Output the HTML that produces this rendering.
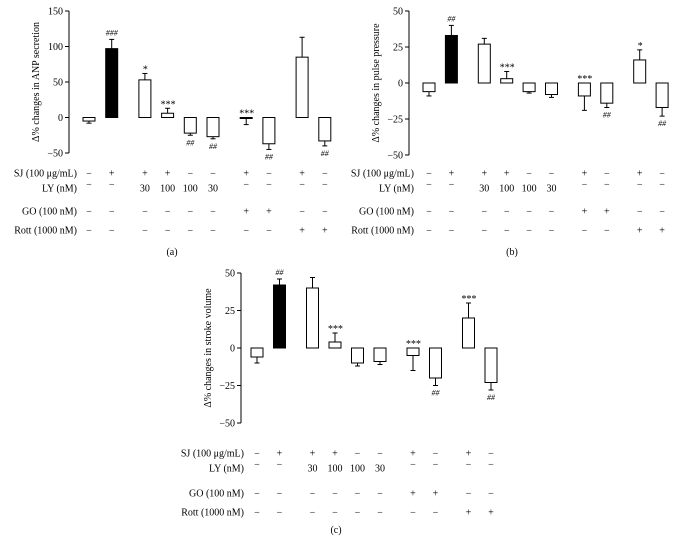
<!DOCTYPE html>
<html><head><meta charset="utf-8"><style>
body{margin:0;background:#fff}
svg{display:block;font-family:"Liberation Serif","DejaVu Serif",serif}
</style></head><body>
<svg id="s" width="673" height="545"></svg>
<script>
const groups=["g1","g2","g3","g4","g5","g6","g7","g8","g9","g10"];
const aVals=[-5,97,53,6,-22,-27,-1,-37,85,-33];
const aErr=[-8,110,62,13,-25,-30,-10,-45,113,-40];
const aMarks=["","###","*","***","##","##","***","##","","##"];
const aTicks=[150,100,50,0,-50];
const bVals=[-6,33,27,3,-6,-8,-9,-14,16,-17];
const bErr=[-9,40,31,8,-7,-10,-19,-17,23,-23];
const bMarks=["","##","","***","","","***","##","*","##"];
const bTicks=[50,25,0,-25,-50];
const cVals=[-6,42,40,4,-10,-9,-5,-20,20,-23];
const cErr=[-10,46,47,10,-12,-11,-15,-25,30,-28];
const cMarks=["","##","","***","","","***","##","***","##"];
const cTicks=[50,25,0,-25,-50];
const rowLabels=["SJ (100 \u03bcg/mL)","LY (nM)","GO (100 nM)","Rott (1000 nM)"];
const rowSJ=["\u2212","+","+","+","\u2212","\u2212","+","\u2212","+","\u2212"];
const rowLY=["\u2212","\u2212","30","100","100","30","\u2212","\u2212","\u2212","\u2212"];
const rowGO=["\u2212","\u2212","\u2212","\u2212","\u2212","\u2212","+","+","\u2212","\u2212"];
const rowRott=["\u2212","\u2212","\u2212","\u2212","\u2212","\u2212","\u2212","\u2212","+","+"];
const NS="http://www.w3.org/2000/svg";
const svg=document.getElementById("s");
function el(t,a,p){const e=document.createElementNS(NS,t);for(const k in a)e.setAttribute(k,a[k]);(p||svg).appendChild(e);return e;}
function panel(o){
  const g=el("g",{});
  
  
  const yMax=o.ticks[0],yMin=o.ticks[o.ticks.length-1];
  const y=v=>o.yTop+(yMax-v)/(yMax-yMin)*(o.yBot-o.yTop);
  const x=i=>o.x0+i*o.step+(i>=2?o.gap:0)+(i>=6?o.gap:0)+(i>=8?o.gap:0);
  const ax=el("line",{x1:o.ax,x2:o.ax,y1:y(yMax),y2:y(yMin),stroke:"#000","stroke-width":1},g);
  
  
  o.ticks.forEach(t=>{
    el("line",{x1:o.ax-4,x2:o.ax,y1:y(t),y2:y(t),stroke:"#000"},g);
    const tx=el("text",{x:o.ax-6,y:y(t)+3.5,"text-anchor":"end","font-size":10},g);
    tx.textContent=t<0?"\u2212"+(-t):String(t);
    
    
  });
  const yt=el("text",{transform:`translate(${o.ax-30},${(y(yMax)+y(yMin))/2}) rotate(-90)`,"text-anchor":"middle","font-size":10},g);
  yt.textContent=o.title;
  
  
  const w=12;
  o.vals.forEach((v,i)=>{
    const cx=x(i);
    const top=Math.min(y(v),y(0)),h=Math.abs(y(v)-y(0));
    const e=o.err[i];
    el("line",{x1:cx,x2:cx,y1:y(v),y2:y(e),stroke:"#000"},g);
    el("line",{x1:cx-2.5,x2:cx+2.5,y1:y(e),y2:y(e),stroke:"#000"},g);
    const r=el("rect",{x:cx-w/2,y:top,width:w,height:Math.max(h,1),fill:i==1?"#000":"#fff",stroke:"#000","stroke-width":1},g);
    
    
    if(o.marks[i]){
      const star=o.marks[i][0]=="*";
      const pos=e>=0?y(e)-4:(star?y(0)-4:y(e)+10);
      const m=el("text",{x:cx,y:pos+(star?3:0),"text-anchor":"middle","font-size":star?10:8,"font-style":"italic"},g);
      m.textContent=o.marks[i];
      
      
    }
  });
  const rows=[rowSJ,rowLY,rowGO,rowRott];
  rows.forEach((row,r)=>{
    const lb=el("text",{x:o.lblX,y:o.rows[r]+3.5,"text-anchor":"end","font-size":10},g);
    lb.textContent=rowLabels[r];
    
    
    row.forEach((c,i)=>{
      const t=el("text",{x:x(i),y:o.rows[r]+3.5-(r==1&&c=="\u2212"?4:0),"text-anchor":"middle","font-size":10},g);
      t.textContent=c;
      
      
    });
  });
  const cap=el("text",{x:o.capX,y:o.capY,"text-anchor":"middle","font-size":10},g);
  cap.textContent=o.cap;
  
  
}
panel({id:"a",vals:aVals,err:aErr,marks:aMarks,ticks:aTicks,title:"\u0394% changes in ANP secretion",ax:69,yTop:11,yBot:153,x0:89,step:22.7,gap:10.5,rows:[173,188,211,230],lblX:77,cap:"(a)",capX:172,capY:255});
panel({id:"b",vals:bVals,err:bErr,marks:bMarks,ticks:bTicks,title:"\u0394% changes in pulse pressure",ax:409,yTop:11,yBot:155,x0:429,step:22.4,gap:10.5,rows:[173,188,211,230],lblX:414,cap:"(b)",capX:512,capY:255});
panel({id:"c",vals:cVals,err:cErr,marks:cMarks,ticks:cTicks,title:"\u0394% changes in stroke volume",ax:241,yTop:273,yBot:423,x0:257,step:22.5,gap:10.5,rows:[453,468,493,512],lblX:244,cap:"(c)",capX:336,capY:533});
</script>
</body></html>
